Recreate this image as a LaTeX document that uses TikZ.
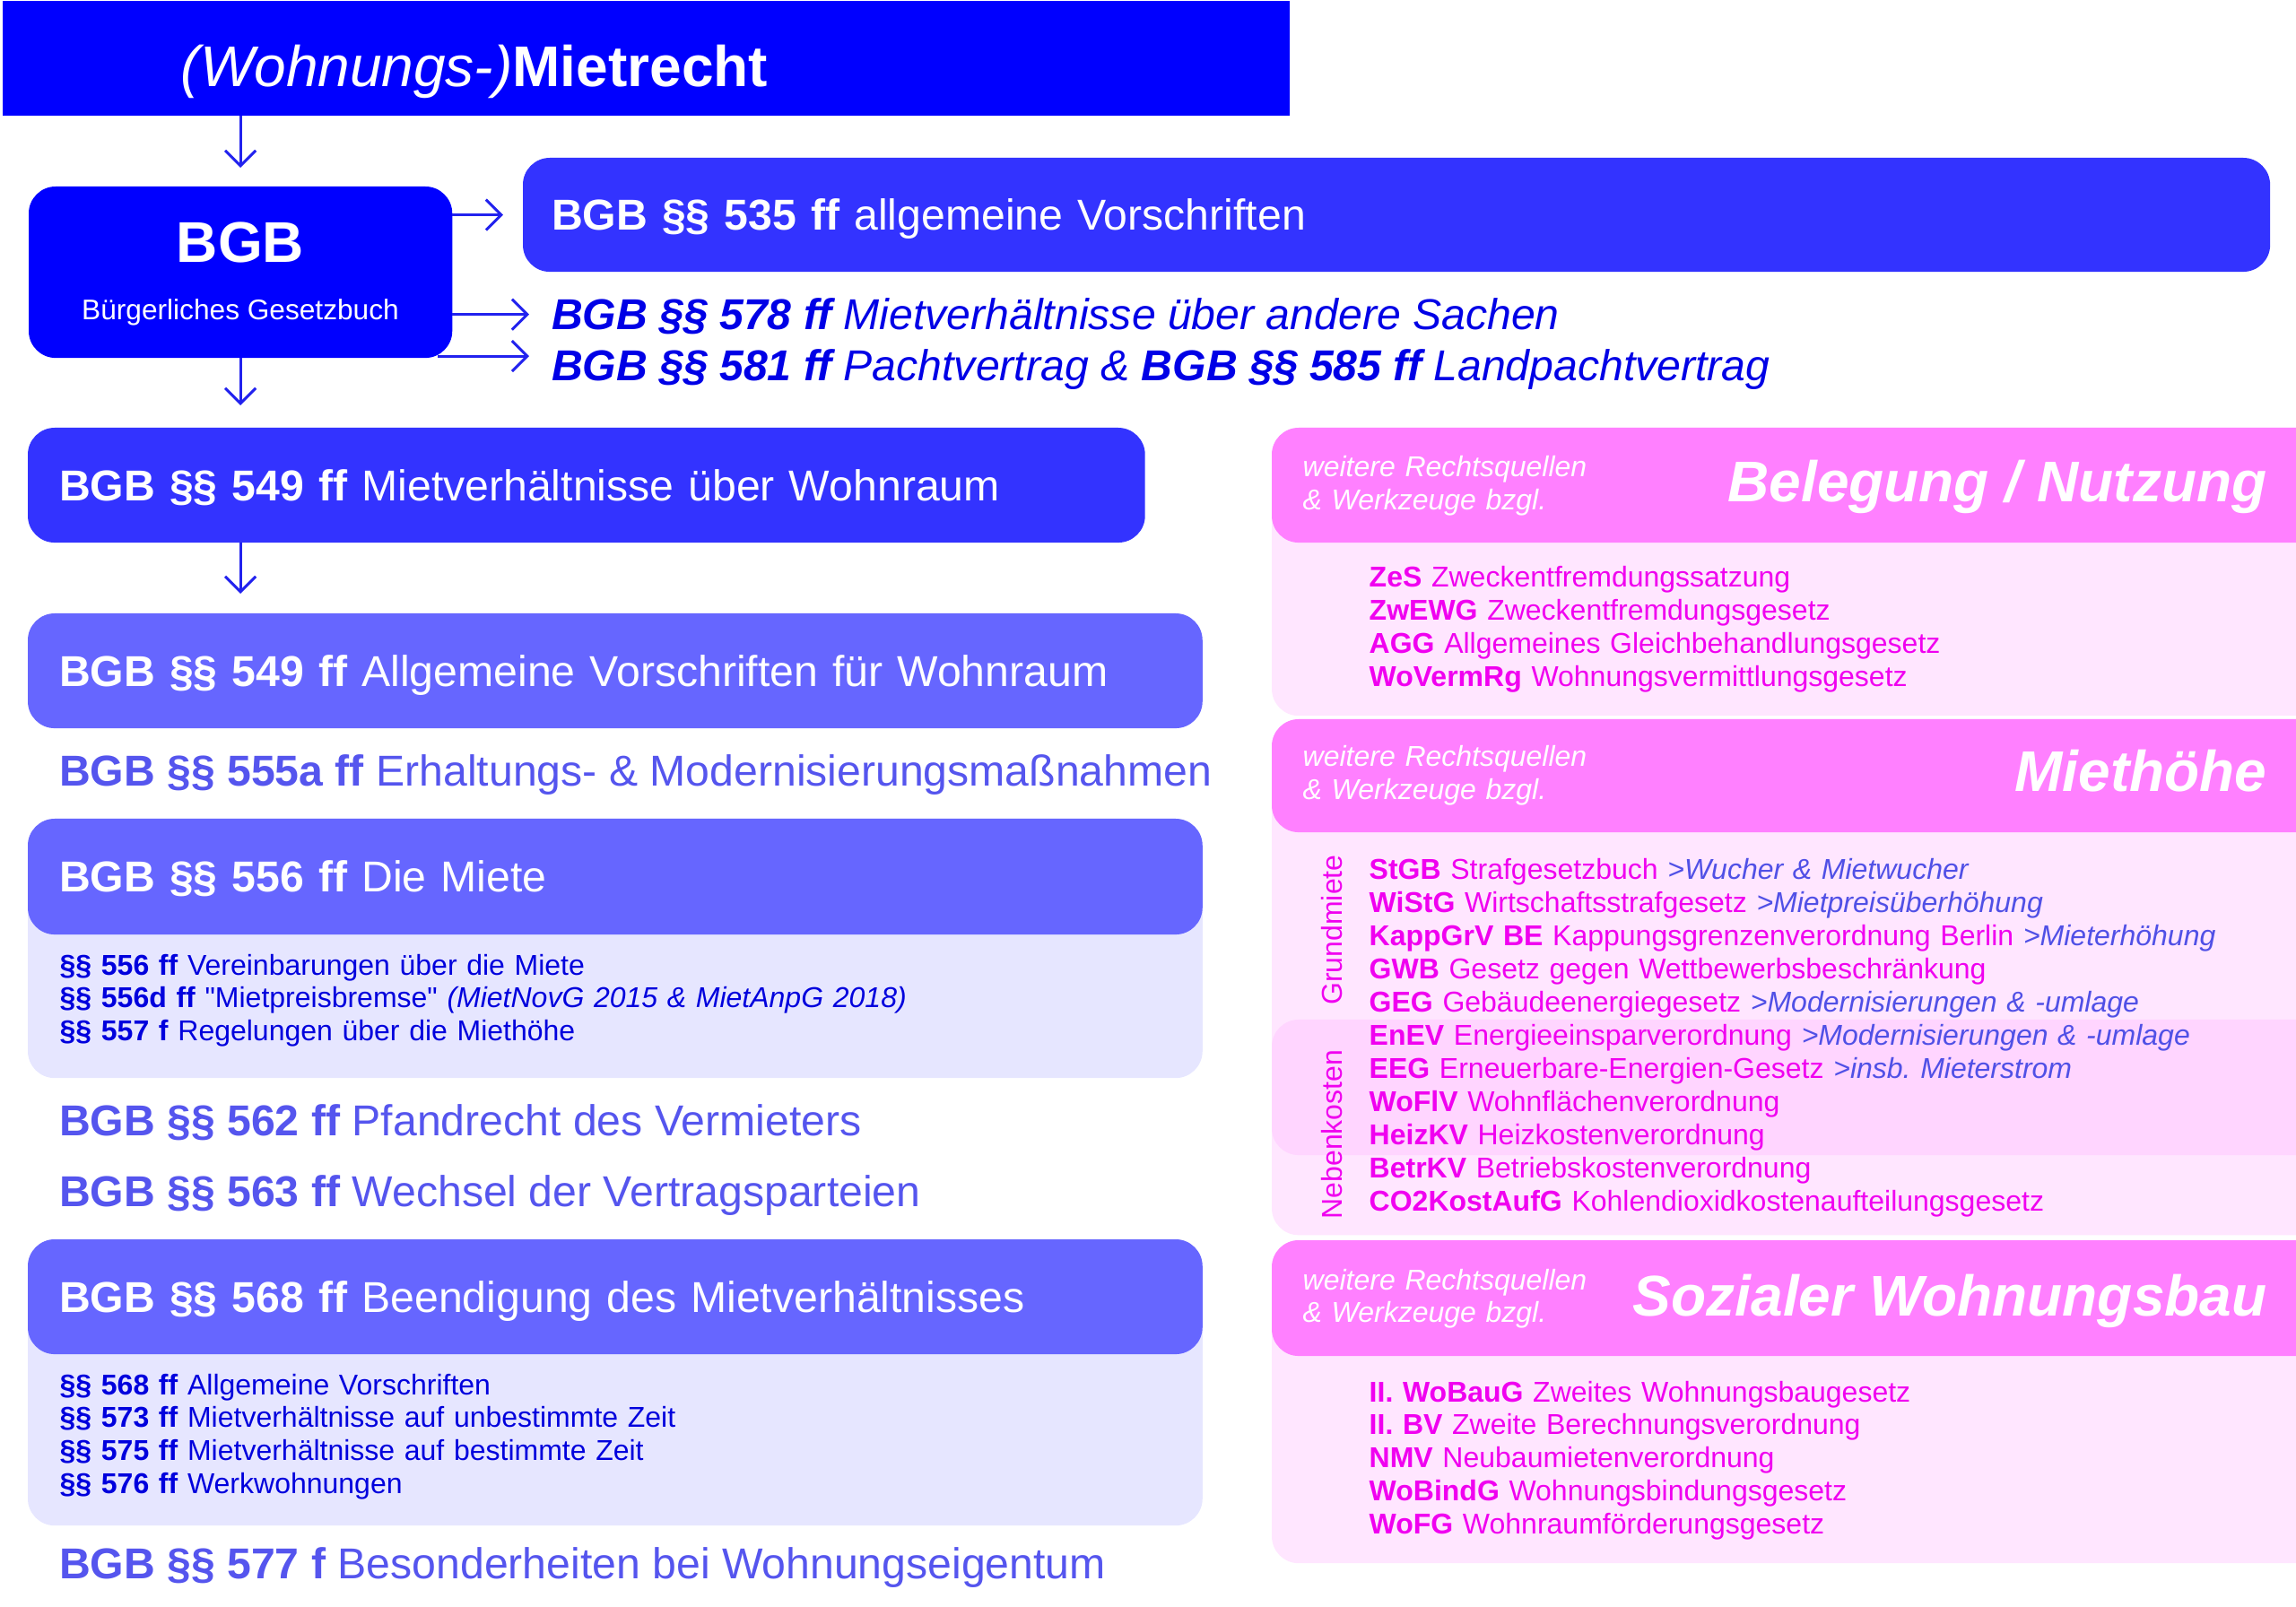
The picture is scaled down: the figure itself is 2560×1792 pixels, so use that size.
\documentclass[tikz,border=0pt]{standalone}
\usepackage{fontspec}
\setmainfont{Liberation Sans}
\usetikzlibrary{calc}
\usetikzlibrary{arrows.meta}

\definecolor{titelblau}{HTML}{0000FF}
\definecolor{mittelblau}{HTML}{3333FF}
\definecolor{hellblau}{HTML}{6666FF}
\definecolor{grundblau}{HTML}{E6E6FF}
\definecolor{textblau}{HTML}{5555EE}
\definecolor{dunkelblau}{HTML}{0000DD}
\definecolor{kursivblau}{HTML}{0000E6}
\definecolor{pfeilblau}{HTML}{2222EE}
\definecolor{rosakopf}{HTML}{FF80FF}
\definecolor{rosagrund}{HTML}{FFE6FF}
\definecolor{rosaband}{HTML}{FFD5FF}
\definecolor{magentatext}{HTML}{F000F0}
\definecolor{verweisblau}{HTML}{5050E6}

\newcommand{\riesenschrift}{\fontsize{18.2}{21}\selectfont}
\newcommand{\grossschrift}{\fontsize{13.7}{16}\selectfont}
\newcommand{\kleinschrift}{\fontsize{9.1}{10.5}\selectfont}
\newcommand{\abk}[1]{\textbf{#1}}
\newcommand{\verw}[1]{{\color{verweisblau}\itshape #1}}

\tikzset{
  pfeil/.style={draw=pfeilblau, line width=0.85pt, -{Straight Barb[length=0.17cm,width=0.34cm]}},
  flaeche/.style={anchor=north west, rounded corners=0.3cm, inner sep=0pt, outer sep=0pt},
  kasten/.style={flaeche, inner xsep=0.35cm, align=left, text height=0.40cm, text depth=0.054cm,
    font=\grossschrift, text=white},
  zeile/.style={anchor=base west, inner sep=0pt, outer sep=0pt, text height=0.40cm, text depth=0.054cm,
    font=\grossschrift, text=textblau},
  liste/.style={anchor=base west, inner sep=0pt, text width=10.5cm, align=left, font=\kleinschrift},
  hinweis/.style={anchor=base west, inner sep=0pt, text width=4cm, align=left, font=\kleinschrift\itshape, text=white},
  thema/.style={anchor=base east, inner sep=0pt, font=\riesenschrift\bfseries\itshape, text=white}
}

\begin{document}
\frenchspacing
\begin{tikzpicture}[x=0.01cm, y=-0.01cm]
\useasboundingbox (0,0) rectangle (2560,1792);
\clip (0,0) rectangle (2560,1792);

% Titel und BGB
\node[flaeche, rounded corners=0pt, fill=titelblau, minimum width=14.34cm, minimum height=1.28cm] (titel) at (3,1) {};
\node[anchor=base west, inner sep=0pt, font=\riesenschrift, text=white] (titeltext) at (201,97) {\textit{(Wohnungs-)}\textbf{Mietrecht}};
\node[flaeche, fill=titelblau, minimum width=4.72cm, minimum height=1.91cm] (bgb) at (32,208) {};
\node[anchor=base, inner sep=0pt, font=\riesenschrift\bfseries, text=white] (bgbtitel) at (268,293) {BGB};
\node[anchor=base, inner sep=0pt, font=\fontsize{9}{11}\selectfont, text=white] (bgbname) at (268,357) {Bürgerliches Gesetzbuch};

\node[kasten, fill=mittelblau, inner xsep=0.32cm, text width=18.83cm, minimum height=1.27cm] (b535) at (583,176) {\textbf{BGB §§ 535 ff} allgemeine Vorschriften};
\node[zeile, font=\grossschrift\itshape, text=kursivblau] (b578) at (615,368) {\textbf{BGB §§ 578 ff} Mietverhältnisse über andere Sachen};
\node[zeile, font=\grossschrift\itshape, text=kursivblau] (b581) at (615,425) {\textbf{BGB §§ 581 ff} Pachtvertrag \& \textbf{BGB §§ 585 ff} Landpachtvertrag};

% linke Spalte
\node[kasten, fill=mittelblau, text width=11.75cm, minimum height=1.28cm] (b549) at (31,477) {\textbf{BGB §§ 549 ff} Mietverhältnisse über Wohnraum};
\node[kasten, fill=hellblau, text width=12.39cm, minimum height=1.28cm] (b549a) at (31,684) {\textbf{BGB §§ 549 ff} Allgemeine Vorschriften für Wohnraum};
\node[zeile] (b555a) at (66,877) {\textbf{BGB §§ 555a ff} Erhaltungs- \& Modernisierungsmaßnahmen};

\node[flaeche, fill=grundblau, minimum width=13.09cm, minimum height=2.89cm] (g556) at (31,913) {};
\node[kasten, fill=hellblau, text width=12.39cm, minimum height=1.29cm] (b556) at (31,913) {\textbf{BGB §§ 556 ff} Die Miete};
\node[liste, text=dunkelblau] (l556) at (66,1087) {\textbf{§§ 556 ff} Vereinbarungen über die Miete\\
  \textbf{§§ 556d ff} \textquotedbl Mietpreisbremse\textquotedbl{} \textit{(MietNovG 2015 \& MietAnpG 2018)}\\
  \textbf{§§ 557 f} Regelungen über die Miethöhe};

\node[zeile] (b562) at (66,1267) {\textbf{BGB §§ 562 ff} Pfandrecht des Vermieters};
\node[zeile] (b563) at (66,1345) {\textbf{BGB §§ 563 ff} Wechsel der Vertragsparteien};

\node[flaeche, fill=grundblau, minimum width=13.09cm, minimum height=3.19cm] (g568) at (31,1382) {};
\node[kasten, fill=hellblau, text width=12.39cm, minimum height=1.28cm] (b568) at (31,1382) {\textbf{BGB §§ 568 ff} Beendigung des Mietverhältnisses};
\node[liste, text=dunkelblau] (l568) at (66,1555) {\textbf{§§ 568 ff} Allgemeine Vorschriften\\
  \textbf{§§ 573 ff} Mietverhältnisse auf unbestimmte Zeit\\
  \textbf{§§ 575 ff} Mietverhältnisse auf bestimmte Zeit\\
  \textbf{§§ 576 ff} Werkwohnungen};
\node[zeile] (b577) at (66,1760) {\textbf{BGB §§ 577 f} Besonderheiten bei Wohnungseigentum};

% Pfeile
\coordinate (ecke) at ($(bgb.south east)+(-16,-2)$);
\draw[pfeil, shorten >=0.21cm] (titel.south -| bgb.north) -- (bgb.north);
\draw[pfeil, shorten >=0.22cm] (bgb.east |- b535.west) -- (b535.west);
\draw[pfeil, shorten >=0.25cm] (bgb.east |- b578.west) -- (b578.west);
\draw[pfeil, shorten >=0.25cm] (ecke) -- (ecke -| b581.west);
\draw[pfeil, shorten >=0.25cm] (bgb.south) -- (bgb.south |- b549.north);
\draw[pfeil, shorten >=0.22cm] (b549.south -| bgb.south) -- (bgb.south |- b549a.north);

% rechte Spalte: Belegung / Nutzung
\node[flaeche, fill=rosagrund, minimum width=11.82cm, minimum height=3.21cm] (g1) at (1418,477) {};
\node[flaeche, fill=rosakopf, minimum width=11.82cm, minimum height=1.28cm] (k1) at (1418,477) {};
\node[hinweis] (h1) at (1452,532) {weitere Rechtsquellen\\\& Werkzeuge bzgl.};
\node[thema] (t1) at (2528,560) {Belegung / Nutzung};
\node[liste, text=magentatext] (l1) at (1526,655) {\abk{ZeS} Zweckentfremdungssatzung\\
  \abk{ZwEWG} Zweckentfremdungsgesetz\\
  \abk{AGG} Allgemeines Gleichbehandlungsgesetz\\
  \abk{WoVermRg} Wohnungsvermittlungsgesetz};

% Miethoehe
\node[flaeche, fill=rosagrund, minimum width=11.82cm, minimum height=5.75cm] (g2) at (1418,802) {};
\node[flaeche, fill=rosaband, minimum width=11.82cm, minimum height=1.51cm] (nkband) at (1418,1137) {};
\node[flaeche, fill=rosakopf, minimum width=11.82cm, minimum height=1.26cm] (k2) at (1418,802) {};
\node[hinweis] (h2) at (1452,855) {weitere Rechtsquellen\\\& Werkzeuge bzgl.};
\node[thema] (t2) at (2528,883) {Miethöhe};
\node[rotate=90, inner sep=0pt, font=\kleinschrift, text=magentatext] (grundmiete) at (1485,1037) {Grundmiete};
\node[rotate=90, inner sep=0pt, font=\kleinschrift, text=magentatext] (nebenkosten) at (1485,1265) {Nebenkosten};
\node[liste, text=magentatext] (l2) at (1526,981) {\abk{StGB} Strafgesetzbuch \verw{>Wucher \& Mietwucher}\\
  \abk{WiStG} Wirtschaftsstrafgesetz \verw{>Mietpreisüberhöhung}\\
  \abk{KappGrV BE} Kappungsgrenzenverordnung Berlin \verw{>Mieterhöhung}\\
  \abk{GWB} Gesetz gegen Wettbewerbsbeschränkung\\
  \abk{GEG} Gebäudeenergiegesetz \verw{>Modernisierungen \& -umlage}\\
  \abk{EnEV} Energieeinsparverordnung \verw{>Modernisierungen \& -umlage}\\
  \abk{EEG} Erneuerbare-Energien-Gesetz \verw{>insb. Mieterstrom}\\
  \abk{WoFlV} Wohnflächenverordnung\\
  \abk{HeizKV} Heizkostenverordnung\\
  \abk{BetrKV} Betriebskostenverordnung\\
  \abk{CO2KostAufG} Kohlendioxidkostenaufteilungsgesetz};

% Sozialer Wohnungsbau
\node[flaeche, fill=rosagrund, minimum width=11.82cm, minimum height=3.60cm] (g3) at (1418,1383) {};
\node[flaeche, fill=rosakopf, minimum width=11.82cm, minimum height=1.29cm] (k3) at (1418,1383) {};
\node[hinweis] (h3) at (1452,1438) {weitere Rechtsquellen\\\& Werkzeuge bzgl.};
\node[thema] (t3) at (2528,1467) {Sozialer Wohnungsbau};
\node[liste, text=magentatext] (l3) at (1526,1563) {\abk{II. WoBauG} Zweites Wohnungsbaugesetz\\
  \abk{II. BV} Zweite Berechnungsverordnung\\
  \abk{NMV} Neubaumietenverordnung\\
  \abk{WoBindG} Wohnungsbindungsgesetz\\
  \abk{WoFG} Wohnraumförderungsgesetz};
\end{tikzpicture}
\end{document}
